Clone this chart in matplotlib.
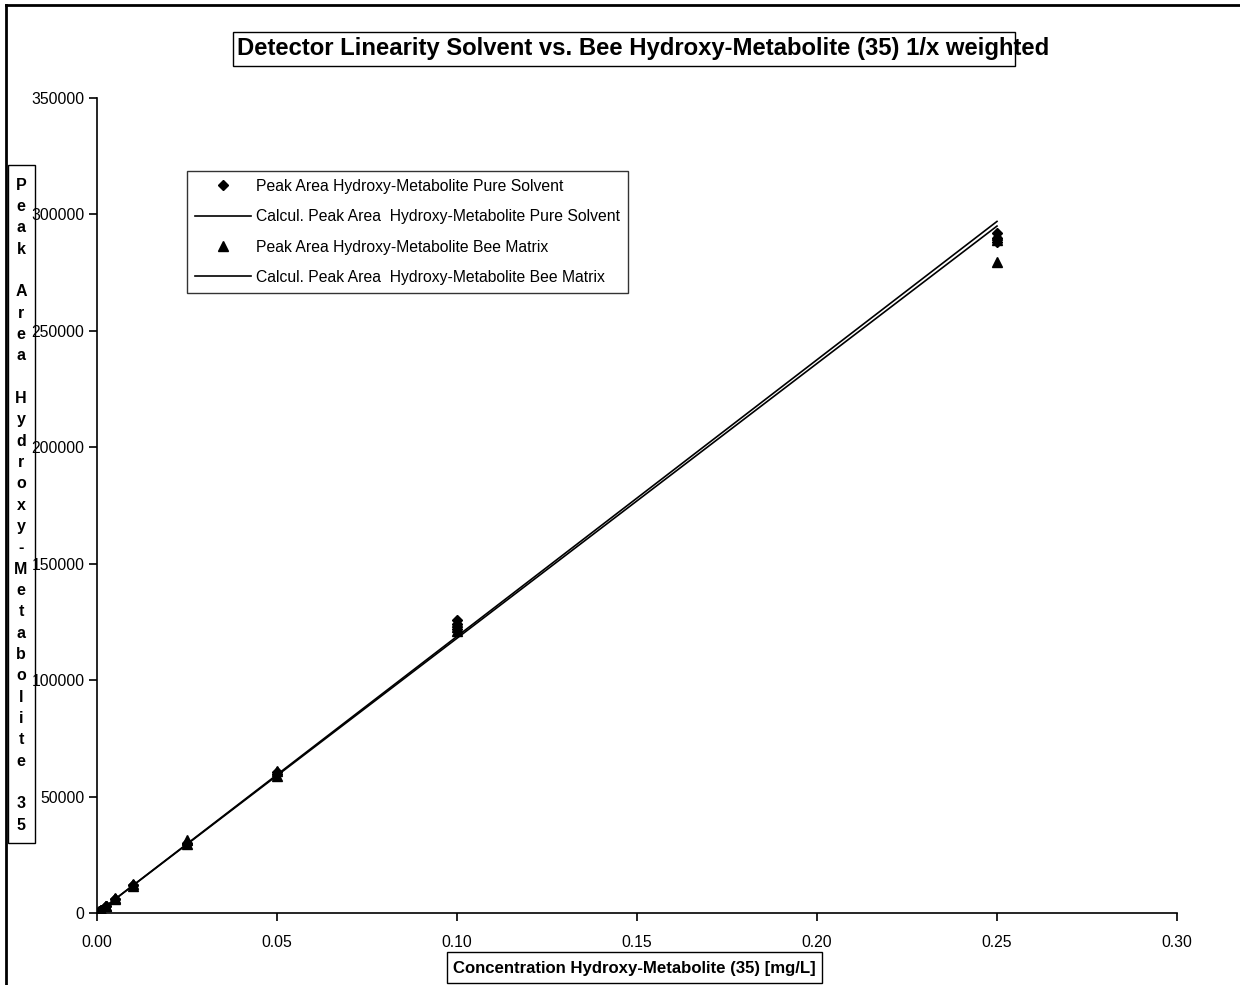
import matplotlib
matplotlib.use("Agg")
import matplotlib.pyplot as plt
import numpy as np
from matplotlib.lines import Line2D
from matplotlib.patches import Rectangle

plt.rcParams['font.family'] = ['Liberation Sans', 'DejaVu Sans']

# Data
conc_levels = [0.0005, 0.001, 0.0025, 0.005, 0.01, 0.025, 0.05, 0.10, 0.25]
solvent_x = [0.0005, 0.0005, 0.001, 0.001, 0.0025, 0.0025, 0.005, 0.005, 0.01, 0.01,
             0.025, 0.025, 0.05, 0.05, 0.10, 0.10, 0.10, 0.25, 0.25, 0.25]
solvent_y = [600, 650, 1200, 1250, 3000, 3100, 6000, 6100, 12000, 12100,
             29500, 30200, 59500, 60500, 126000, 124000, 122000, 292000, 290000, 288000]
bee_x = [0.0005, 0.0005, 0.001, 0.001, 0.0025, 0.0025, 0.005, 0.005, 0.01, 0.01,
         0.025, 0.025, 0.05, 0.05, 0.10, 0.10, 0.10, 0.25, 0.25, 0.25]
bee_y = [550, 620, 1150, 1300, 2900, 3200, 5900, 6300, 11800, 12300,
         29800, 31500, 59000, 61000, 125000, 123000, 121000, 291000, 289000, 279500]
fit_solvent_slope, fit_solvent_icpt = 1188000.0, 0.0
fit_bee_slope, fit_bee_icpt = 1180000.0, 0.0

xticks = [0.00, 0.05, 0.10, 0.15, 0.20, 0.25, 0.30]
yticks = [0, 50000, 100000, 150000, 200000, 250000, 300000, 350000]

title = "Detector Linearity Solvent vs. Bee Hydroxy-Metabolite (35) 1/x weighted"
xlabel = "Concentration Hydroxy-Metabolite (35) [mg/L]"
ylabel = "Peak Area Hydroxy-Metabolite 35"
legend_labels = ["Peak Area Hydroxy-Metabolite Pure Solvent",
                 "Calcul. Peak Area  Hydroxy-Metabolite Pure Solvent",
                 "Peak Area Hydroxy-Metabolite Bee Matrix",
                 "Calcul. Peak Area  Hydroxy-Metabolite Bee Matrix"]

W, H = 1240, 985
fig = plt.figure(figsize=(W/100, H/100), dpi=100)
ax = fig.add_axes([97/W, 1-913/H, (1177-97)/W, (913-98)/H])

xl = np.array([min(conc_levels), max(conc_levels)])
h1, = ax.plot(solvent_x, solvent_y, linestyle='none', marker='D', ms=5.5, color='black')
h2, = ax.plot(xl, fit_solvent_slope*xl + fit_solvent_icpt, color='black', lw=1.2)
h3, = ax.plot(bee_x, bee_y, linestyle='none', marker='^', ms=6.5, color='black')
h4, = ax.plot(xl, fit_bee_slope*xl + fit_bee_icpt, color='black', lw=1.2)

ax.set_xlim(0, 0.30)
ax.set_ylim(0, 350000)
ax.set_xticks(xticks)
ax.set_xticklabels([f"{v:.2f}" for v in xticks])
ax.set_yticks(yticks)
ax.set_yticklabels([str(v) for v in yticks])
ax.spines['top'].set_visible(False)
ax.spines['right'].set_visible(False)
ax.spines['left'].set_linewidth(1.2)
ax.spines['bottom'].set_linewidth(1.2)
ax.tick_params(direction='out', length=6, width=1.2, labelsize=11.3)
ax.tick_params(axis='x', pad=9.5)
ax.tick_params(axis='y', pad=3)

leg = fig.legend([h1, h2, h3, h4], legend_labels, loc='upper left',
                 bbox_to_anchor=(187/W, 1-171/H), fontsize=11.3, frameon=True,
                 fancybox=False, edgecolor='black', handlelength=3.6,
                 handletextpad=0.3, labelspacing=0.98, borderpad=0.5,
                 borderaxespad=0)
leg.get_frame().set_linewidth(1.0)

# Title with box (text overflows box on the right, as in reference)
fig.text(237/W, 1-49/H, title, fontsize=17.2, fontweight='bold', ha='left', va='center')
fig.add_artist(Rectangle((233/W, 1-66/H), (1015-233)/W, (66-32)/H, transform=fig.transFigure,
                         fill=False, edgecolor='black', lw=1.0))

# X label with box
fig.text(634/W, 1-968/H, xlabel, fontsize=12.1, fontweight='bold', ha='center', va='center')
fig.add_artist(Rectangle((447/W, 1-983/H), (822-447)/W, (983-952)/H, transform=fig.transFigure,
                         fill=False, edgecolor='black', lw=1.0))

# Y label, stacked characters
chars = list(ylabel)
y0, y1 = 185, 825
step = (y1 - y0) / (len(chars) - 1)
for i, c in enumerate(chars):
    if c != ' ':
        fig.text(21/W, 1-(y0 + i*step)/H, c, fontsize=11.5, fontweight='bold',
                 ha='center', va='center')
fig.add_artist(Rectangle((8/W, 1-843/H), (35-8)/W, (843-165)/H, transform=fig.transFigure,
                         fill=False, edgecolor='black', lw=1.0))

# Outer chart border (left and top visible)
fig.add_artist(Line2D([6/W, 6/W], [0, 1-5/H], transform=fig.transFigure, color='black', lw=2))
fig.add_artist(Line2D([6/W, 1], [1-5/H, 1-5/H], transform=fig.transFigure, color='black', lw=2))

fig.savefig("out.png", dpi=100)
